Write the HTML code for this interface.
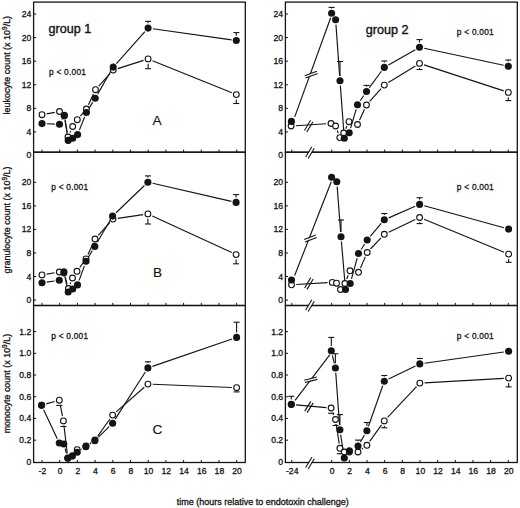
<!DOCTYPE html>
<html><head><meta charset="utf-8"><title>figure</title>
<style>
html,body{margin:0;padding:0;background:#fff;}
body{width:520px;height:508px;overflow:hidden;}
svg{display:block;}
text{font-family:"Liberation Sans",sans-serif;fill:#141414;stroke:#141414;stroke-width:0.3px;}
.tk{font-size:8.6px;}
.grp{font-size:12.6px;stroke-width:0.4px;}
.pv{font-size:8.35px;stroke-width:0.28px;letter-spacing:0.24px;}
.pl{font-size:13.6px;stroke-width:0.15px;}
.yt{font-size:8.95px;}
.xt{font-size:9.0px;}
</style></head>
<body>
<svg width="520" height="508" viewBox="0 0 520 508">
<rect width="520" height="508" fill="#fff"/>
<rect x="33.6" y="2.1" width="211.70" height="150.10" fill="none" stroke="#141414" stroke-width="1.3"/>
<rect x="33.6" y="152.2" width="211.70" height="153.30" fill="none" stroke="#141414" stroke-width="1.3"/>
<rect x="33.6" y="305.5" width="211.70" height="157.00" fill="none" stroke="#141414" stroke-width="1.3"/>
<rect x="285.4" y="2.1" width="231.90" height="150.10" fill="none" stroke="#141414" stroke-width="1.3"/>
<rect x="285.4" y="152.2" width="231.90" height="153.30" fill="none" stroke="#141414" stroke-width="1.3"/>
<rect x="285.4" y="305.5" width="231.90" height="157.00" fill="none" stroke="#141414" stroke-width="1.3"/>
<line x1="42.00" y1="152.2" x2="42.00" y2="149.60" stroke="#141414" stroke-width="1"/>
<line x1="59.70" y1="152.2" x2="59.70" y2="149.60" stroke="#141414" stroke-width="1"/>
<line x1="77.40" y1="152.2" x2="77.40" y2="149.60" stroke="#141414" stroke-width="1"/>
<line x1="95.10" y1="152.2" x2="95.10" y2="149.60" stroke="#141414" stroke-width="1"/>
<line x1="112.80" y1="152.2" x2="112.80" y2="149.60" stroke="#141414" stroke-width="1"/>
<line x1="130.50" y1="152.2" x2="130.50" y2="149.60" stroke="#141414" stroke-width="1"/>
<line x1="148.20" y1="152.2" x2="148.20" y2="149.60" stroke="#141414" stroke-width="1"/>
<line x1="165.90" y1="152.2" x2="165.90" y2="149.60" stroke="#141414" stroke-width="1"/>
<line x1="183.60" y1="152.2" x2="183.60" y2="149.60" stroke="#141414" stroke-width="1"/>
<line x1="201.30" y1="152.2" x2="201.30" y2="149.60" stroke="#141414" stroke-width="1"/>
<line x1="219.00" y1="152.2" x2="219.00" y2="149.60" stroke="#141414" stroke-width="1"/>
<line x1="236.70" y1="152.2" x2="236.70" y2="149.60" stroke="#141414" stroke-width="1"/>
<line x1="33.6" y1="131.92" x2="36.20" y2="131.92" stroke="#141414" stroke-width="1"/>
<line x1="33.6" y1="108.34" x2="36.20" y2="108.34" stroke="#141414" stroke-width="1"/>
<line x1="33.6" y1="84.76" x2="36.20" y2="84.76" stroke="#141414" stroke-width="1"/>
<line x1="33.6" y1="61.18" x2="36.20" y2="61.18" stroke="#141414" stroke-width="1"/>
<line x1="33.6" y1="37.60" x2="36.20" y2="37.60" stroke="#141414" stroke-width="1"/>
<line x1="33.6" y1="14.02" x2="36.20" y2="14.02" stroke="#141414" stroke-width="1"/>
<line x1="42.00" y1="305.5" x2="42.00" y2="302.90" stroke="#141414" stroke-width="1"/>
<line x1="59.70" y1="305.5" x2="59.70" y2="302.90" stroke="#141414" stroke-width="1"/>
<line x1="77.40" y1="305.5" x2="77.40" y2="302.90" stroke="#141414" stroke-width="1"/>
<line x1="95.10" y1="305.5" x2="95.10" y2="302.90" stroke="#141414" stroke-width="1"/>
<line x1="112.80" y1="305.5" x2="112.80" y2="302.90" stroke="#141414" stroke-width="1"/>
<line x1="130.50" y1="305.5" x2="130.50" y2="302.90" stroke="#141414" stroke-width="1"/>
<line x1="148.20" y1="305.5" x2="148.20" y2="302.90" stroke="#141414" stroke-width="1"/>
<line x1="165.90" y1="305.5" x2="165.90" y2="302.90" stroke="#141414" stroke-width="1"/>
<line x1="183.60" y1="305.5" x2="183.60" y2="302.90" stroke="#141414" stroke-width="1"/>
<line x1="201.30" y1="305.5" x2="201.30" y2="302.90" stroke="#141414" stroke-width="1"/>
<line x1="219.00" y1="305.5" x2="219.00" y2="302.90" stroke="#141414" stroke-width="1"/>
<line x1="236.70" y1="305.5" x2="236.70" y2="302.90" stroke="#141414" stroke-width="1"/>
<line x1="33.6" y1="300.10" x2="36.20" y2="300.10" stroke="#141414" stroke-width="1"/>
<line x1="33.6" y1="276.54" x2="36.20" y2="276.54" stroke="#141414" stroke-width="1"/>
<line x1="33.6" y1="252.98" x2="36.20" y2="252.98" stroke="#141414" stroke-width="1"/>
<line x1="33.6" y1="229.42" x2="36.20" y2="229.42" stroke="#141414" stroke-width="1"/>
<line x1="33.6" y1="205.86" x2="36.20" y2="205.86" stroke="#141414" stroke-width="1"/>
<line x1="33.6" y1="182.30" x2="36.20" y2="182.30" stroke="#141414" stroke-width="1"/>
<line x1="42.00" y1="462.5" x2="42.00" y2="459.90" stroke="#141414" stroke-width="1"/>
<line x1="59.70" y1="462.5" x2="59.70" y2="459.90" stroke="#141414" stroke-width="1"/>
<line x1="77.40" y1="462.5" x2="77.40" y2="459.90" stroke="#141414" stroke-width="1"/>
<line x1="95.10" y1="462.5" x2="95.10" y2="459.90" stroke="#141414" stroke-width="1"/>
<line x1="112.80" y1="462.5" x2="112.80" y2="459.90" stroke="#141414" stroke-width="1"/>
<line x1="130.50" y1="462.5" x2="130.50" y2="459.90" stroke="#141414" stroke-width="1"/>
<line x1="148.20" y1="462.5" x2="148.20" y2="459.90" stroke="#141414" stroke-width="1"/>
<line x1="165.90" y1="462.5" x2="165.90" y2="459.90" stroke="#141414" stroke-width="1"/>
<line x1="183.60" y1="462.5" x2="183.60" y2="459.90" stroke="#141414" stroke-width="1"/>
<line x1="201.30" y1="462.5" x2="201.30" y2="459.90" stroke="#141414" stroke-width="1"/>
<line x1="219.00" y1="462.5" x2="219.00" y2="459.90" stroke="#141414" stroke-width="1"/>
<line x1="236.70" y1="462.5" x2="236.70" y2="459.90" stroke="#141414" stroke-width="1"/>
<line x1="33.6" y1="440.18" x2="36.20" y2="440.18" stroke="#141414" stroke-width="1"/>
<line x1="33.6" y1="418.46" x2="36.20" y2="418.46" stroke="#141414" stroke-width="1"/>
<line x1="33.6" y1="396.74" x2="36.20" y2="396.74" stroke="#141414" stroke-width="1"/>
<line x1="33.6" y1="375.02" x2="36.20" y2="375.02" stroke="#141414" stroke-width="1"/>
<line x1="33.6" y1="353.30" x2="36.20" y2="353.30" stroke="#141414" stroke-width="1"/>
<line x1="33.6" y1="331.58" x2="36.20" y2="331.58" stroke="#141414" stroke-width="1"/>
<line x1="291.80" y1="152.2" x2="291.80" y2="149.60" stroke="#141414" stroke-width="1"/>
<line x1="331.70" y1="152.2" x2="331.70" y2="149.60" stroke="#141414" stroke-width="1"/>
<line x1="349.36" y1="152.2" x2="349.36" y2="149.60" stroke="#141414" stroke-width="1"/>
<line x1="367.02" y1="152.2" x2="367.02" y2="149.60" stroke="#141414" stroke-width="1"/>
<line x1="384.68" y1="152.2" x2="384.68" y2="149.60" stroke="#141414" stroke-width="1"/>
<line x1="402.34" y1="152.2" x2="402.34" y2="149.60" stroke="#141414" stroke-width="1"/>
<line x1="420.00" y1="152.2" x2="420.00" y2="149.60" stroke="#141414" stroke-width="1"/>
<line x1="437.66" y1="152.2" x2="437.66" y2="149.60" stroke="#141414" stroke-width="1"/>
<line x1="455.32" y1="152.2" x2="455.32" y2="149.60" stroke="#141414" stroke-width="1"/>
<line x1="472.98" y1="152.2" x2="472.98" y2="149.60" stroke="#141414" stroke-width="1"/>
<line x1="490.64" y1="152.2" x2="490.64" y2="149.60" stroke="#141414" stroke-width="1"/>
<line x1="508.30" y1="152.2" x2="508.30" y2="149.60" stroke="#141414" stroke-width="1"/>
<line x1="285.4" y1="131.92" x2="288.00" y2="131.92" stroke="#141414" stroke-width="1"/>
<line x1="285.4" y1="108.34" x2="288.00" y2="108.34" stroke="#141414" stroke-width="1"/>
<line x1="285.4" y1="84.76" x2="288.00" y2="84.76" stroke="#141414" stroke-width="1"/>
<line x1="285.4" y1="61.18" x2="288.00" y2="61.18" stroke="#141414" stroke-width="1"/>
<line x1="285.4" y1="37.60" x2="288.00" y2="37.60" stroke="#141414" stroke-width="1"/>
<line x1="285.4" y1="14.02" x2="288.00" y2="14.02" stroke="#141414" stroke-width="1"/>
<line x1="291.80" y1="305.5" x2="291.80" y2="302.90" stroke="#141414" stroke-width="1"/>
<line x1="331.70" y1="305.5" x2="331.70" y2="302.90" stroke="#141414" stroke-width="1"/>
<line x1="349.36" y1="305.5" x2="349.36" y2="302.90" stroke="#141414" stroke-width="1"/>
<line x1="367.02" y1="305.5" x2="367.02" y2="302.90" stroke="#141414" stroke-width="1"/>
<line x1="384.68" y1="305.5" x2="384.68" y2="302.90" stroke="#141414" stroke-width="1"/>
<line x1="402.34" y1="305.5" x2="402.34" y2="302.90" stroke="#141414" stroke-width="1"/>
<line x1="420.00" y1="305.5" x2="420.00" y2="302.90" stroke="#141414" stroke-width="1"/>
<line x1="437.66" y1="305.5" x2="437.66" y2="302.90" stroke="#141414" stroke-width="1"/>
<line x1="455.32" y1="305.5" x2="455.32" y2="302.90" stroke="#141414" stroke-width="1"/>
<line x1="472.98" y1="305.5" x2="472.98" y2="302.90" stroke="#141414" stroke-width="1"/>
<line x1="490.64" y1="305.5" x2="490.64" y2="302.90" stroke="#141414" stroke-width="1"/>
<line x1="508.30" y1="305.5" x2="508.30" y2="302.90" stroke="#141414" stroke-width="1"/>
<line x1="285.4" y1="300.10" x2="288.00" y2="300.10" stroke="#141414" stroke-width="1"/>
<line x1="285.4" y1="276.54" x2="288.00" y2="276.54" stroke="#141414" stroke-width="1"/>
<line x1="285.4" y1="252.98" x2="288.00" y2="252.98" stroke="#141414" stroke-width="1"/>
<line x1="285.4" y1="229.42" x2="288.00" y2="229.42" stroke="#141414" stroke-width="1"/>
<line x1="285.4" y1="205.86" x2="288.00" y2="205.86" stroke="#141414" stroke-width="1"/>
<line x1="285.4" y1="182.30" x2="288.00" y2="182.30" stroke="#141414" stroke-width="1"/>
<line x1="291.80" y1="462.5" x2="291.80" y2="459.90" stroke="#141414" stroke-width="1"/>
<line x1="331.70" y1="462.5" x2="331.70" y2="459.90" stroke="#141414" stroke-width="1"/>
<line x1="349.36" y1="462.5" x2="349.36" y2="459.90" stroke="#141414" stroke-width="1"/>
<line x1="367.02" y1="462.5" x2="367.02" y2="459.90" stroke="#141414" stroke-width="1"/>
<line x1="384.68" y1="462.5" x2="384.68" y2="459.90" stroke="#141414" stroke-width="1"/>
<line x1="402.34" y1="462.5" x2="402.34" y2="459.90" stroke="#141414" stroke-width="1"/>
<line x1="420.00" y1="462.5" x2="420.00" y2="459.90" stroke="#141414" stroke-width="1"/>
<line x1="437.66" y1="462.5" x2="437.66" y2="459.90" stroke="#141414" stroke-width="1"/>
<line x1="455.32" y1="462.5" x2="455.32" y2="459.90" stroke="#141414" stroke-width="1"/>
<line x1="472.98" y1="462.5" x2="472.98" y2="459.90" stroke="#141414" stroke-width="1"/>
<line x1="490.64" y1="462.5" x2="490.64" y2="459.90" stroke="#141414" stroke-width="1"/>
<line x1="508.30" y1="462.5" x2="508.30" y2="459.90" stroke="#141414" stroke-width="1"/>
<line x1="285.4" y1="440.18" x2="288.00" y2="440.18" stroke="#141414" stroke-width="1"/>
<line x1="285.4" y1="418.46" x2="288.00" y2="418.46" stroke="#141414" stroke-width="1"/>
<line x1="285.4" y1="396.74" x2="288.00" y2="396.74" stroke="#141414" stroke-width="1"/>
<line x1="285.4" y1="375.02" x2="288.00" y2="375.02" stroke="#141414" stroke-width="1"/>
<line x1="285.4" y1="353.30" x2="288.00" y2="353.30" stroke="#141414" stroke-width="1"/>
<line x1="285.4" y1="331.58" x2="288.00" y2="331.58" stroke="#141414" stroke-width="1"/>
<text x="31.30" y="157.70" text-anchor="end" class="tk">0</text>
<text x="31.30" y="134.92" text-anchor="end" class="tk">4</text>
<text x="31.30" y="111.34" text-anchor="end" class="tk">8</text>
<text x="31.30" y="87.76" text-anchor="end" class="tk">12</text>
<text x="31.30" y="64.18" text-anchor="end" class="tk">16</text>
<text x="31.30" y="40.60" text-anchor="end" class="tk">20</text>
<text x="31.30" y="17.02" text-anchor="end" class="tk">24</text>
<text x="31.30" y="303.10" text-anchor="end" class="tk">0</text>
<text x="31.30" y="279.54" text-anchor="end" class="tk">4</text>
<text x="31.30" y="255.98" text-anchor="end" class="tk">8</text>
<text x="31.30" y="232.42" text-anchor="end" class="tk">12</text>
<text x="31.30" y="208.86" text-anchor="end" class="tk">16</text>
<text x="31.30" y="185.30" text-anchor="end" class="tk">20</text>
<text x="31.30" y="464.90" text-anchor="end" class="tk">0</text>
<text x="31.30" y="443.18" text-anchor="end" class="tk">0.2</text>
<text x="31.30" y="421.46" text-anchor="end" class="tk">0.4</text>
<text x="31.30" y="399.74" text-anchor="end" class="tk">0.6</text>
<text x="31.30" y="378.02" text-anchor="end" class="tk">0.8</text>
<text x="31.30" y="356.30" text-anchor="end" class="tk">1.0</text>
<text x="31.30" y="334.58" text-anchor="end" class="tk">1.2</text>
<text x="283.10" y="157.70" text-anchor="end" class="tk">0</text>
<text x="283.10" y="134.92" text-anchor="end" class="tk">4</text>
<text x="283.10" y="111.34" text-anchor="end" class="tk">8</text>
<text x="283.10" y="87.76" text-anchor="end" class="tk">12</text>
<text x="283.10" y="64.18" text-anchor="end" class="tk">16</text>
<text x="283.10" y="40.60" text-anchor="end" class="tk">20</text>
<text x="283.10" y="17.02" text-anchor="end" class="tk">24</text>
<text x="283.10" y="303.10" text-anchor="end" class="tk">0</text>
<text x="283.10" y="279.54" text-anchor="end" class="tk">4</text>
<text x="283.10" y="255.98" text-anchor="end" class="tk">8</text>
<text x="283.10" y="232.42" text-anchor="end" class="tk">12</text>
<text x="283.10" y="208.86" text-anchor="end" class="tk">16</text>
<text x="283.10" y="185.30" text-anchor="end" class="tk">20</text>
<text x="283.10" y="464.90" text-anchor="end" class="tk">0</text>
<text x="283.10" y="443.18" text-anchor="end" class="tk">0.2</text>
<text x="283.10" y="421.46" text-anchor="end" class="tk">0.4</text>
<text x="283.10" y="399.74" text-anchor="end" class="tk">0.6</text>
<text x="283.10" y="378.02" text-anchor="end" class="tk">0.8</text>
<text x="283.10" y="356.30" text-anchor="end" class="tk">1.0</text>
<text x="283.10" y="334.58" text-anchor="end" class="tk">1.2</text>
<text x="42.40" y="473.6" text-anchor="middle" class="tk">-2</text>
<text x="60.10" y="473.6" text-anchor="middle" class="tk">0</text>
<text x="77.80" y="473.6" text-anchor="middle" class="tk">2</text>
<text x="95.50" y="473.6" text-anchor="middle" class="tk">4</text>
<text x="113.20" y="473.6" text-anchor="middle" class="tk">6</text>
<text x="130.90" y="473.6" text-anchor="middle" class="tk">8</text>
<text x="148.60" y="473.6" text-anchor="middle" class="tk">10</text>
<text x="166.30" y="473.6" text-anchor="middle" class="tk">12</text>
<text x="184.00" y="473.6" text-anchor="middle" class="tk">14</text>
<text x="201.70" y="473.6" text-anchor="middle" class="tk">16</text>
<text x="219.40" y="473.6" text-anchor="middle" class="tk">18</text>
<text x="237.10" y="473.6" text-anchor="middle" class="tk">20</text>
<text x="292.20" y="473.6" text-anchor="middle" class="tk">-24</text>
<text x="332.10" y="473.6" text-anchor="middle" class="tk">0</text>
<text x="349.76" y="473.6" text-anchor="middle" class="tk">2</text>
<text x="367.42" y="473.6" text-anchor="middle" class="tk">4</text>
<text x="385.08" y="473.6" text-anchor="middle" class="tk">6</text>
<text x="402.74" y="473.6" text-anchor="middle" class="tk">8</text>
<text x="420.40" y="473.6" text-anchor="middle" class="tk">10</text>
<text x="438.06" y="473.6" text-anchor="middle" class="tk">12</text>
<text x="455.72" y="473.6" text-anchor="middle" class="tk">14</text>
<text x="473.38" y="473.6" text-anchor="middle" class="tk">16</text>
<text x="491.04" y="473.6" text-anchor="middle" class="tk">18</text>
<text x="508.70" y="473.6" text-anchor="middle" class="tk">20</text>
<line x1="46.72" y1="113.84" x2="54.78" y2="112.36" stroke="#141414" stroke-width="1.15"/>
<line x1="65.05" y1="120.72" x2="67.15" y2="132.28" stroke="#141414" stroke-width="1.15"/>
<line x1="69.96" y1="132.62" x2="70.74" y2="130.88" stroke="#141414" stroke-width="1.15"/>
<line x1="80.41" y1="116.04" x2="83.29" y2="112.66" stroke="#141414" stroke-width="1.15"/>
<line x1="88.45" y1="104.66" x2="93.45" y2="94.04" stroke="#141414" stroke-width="1.15"/>
<line x1="98.72" y1="86.14" x2="109.98" y2="73.66" stroke="#141414" stroke-width="1.15"/>
<line x1="117.77" y1="68.63" x2="143.53" y2="60.37" stroke="#141414" stroke-width="1.15"/>
<line x1="152.55" y1="60.70" x2="231.85" y2="92.80" stroke="#141414" stroke-width="1.15"/>
<line x1="148.10" y1="63.70" x2="148.10" y2="68.70" stroke="#141414" stroke-width="1.1"/>
<line x1="145.10" y1="68.70" x2="151.10" y2="68.70" stroke="#141414" stroke-width="1.1"/>
<line x1="236.30" y1="99.40" x2="236.30" y2="103.50" stroke="#141414" stroke-width="1.1"/>
<line x1="233.30" y1="103.50" x2="239.30" y2="103.50" stroke="#141414" stroke-width="1.1"/>
<line x1="46.80" y1="123.79" x2="54.70" y2="124.11" stroke="#141414" stroke-width="1.15"/>
<line x1="61.78" y1="120.07" x2="62.12" y2="119.43" stroke="#141414" stroke-width="1.15"/>
<line x1="65.12" y1="119.95" x2="67.48" y2="135.65" stroke="#141414" stroke-width="1.15"/>
<line x1="79.38" y1="130.14" x2="84.62" y2="116.96" stroke="#141414" stroke-width="1.15"/>
<line x1="88.93" y1="108.42" x2="92.67" y2="102.38" stroke="#141414" stroke-width="1.15"/>
<line x1="97.60" y1="94.14" x2="110.80" y2="71.26" stroke="#141414" stroke-width="1.15"/>
<line x1="116.40" y1="63.52" x2="144.90" y2="31.68" stroke="#141414" stroke-width="1.15"/>
<line x1="152.85" y1="28.77" x2="231.55" y2="39.83" stroke="#141414" stroke-width="1.15"/>
<line x1="148.10" y1="23.30" x2="148.10" y2="21.40" stroke="#141414" stroke-width="1.1"/>
<line x1="145.10" y1="21.40" x2="151.10" y2="21.40" stroke="#141414" stroke-width="1.1"/>
<line x1="236.30" y1="35.70" x2="236.30" y2="32.60" stroke="#141414" stroke-width="1.1"/>
<line x1="233.30" y1="32.60" x2="239.30" y2="32.60" stroke="#141414" stroke-width="1.1"/>
<line x1="46.73" y1="274.11" x2="54.57" y2="272.79" stroke="#141414" stroke-width="1.15"/>
<line x1="65.24" y1="277.61" x2="67.06" y2="283.89" stroke="#141414" stroke-width="1.15"/>
<line x1="70.15" y1="284.03" x2="70.75" y2="282.47" stroke="#141414" stroke-width="1.15"/>
<line x1="79.82" y1="267.42" x2="83.18" y2="262.78" stroke="#141414" stroke-width="1.15"/>
<line x1="87.98" y1="254.53" x2="93.02" y2="243.37" stroke="#141414" stroke-width="1.15"/>
<line x1="98.22" y1="235.44" x2="109.78" y2="222.66" stroke="#141414" stroke-width="1.15"/>
<line x1="117.75" y1="218.39" x2="143.15" y2="214.61" stroke="#141414" stroke-width="1.15"/>
<line x1="152.26" y1="215.91" x2="231.74" y2="252.59" stroke="#141414" stroke-width="1.15"/>
<line x1="147.90" y1="218.70" x2="147.90" y2="224.00" stroke="#141414" stroke-width="1.1"/>
<line x1="144.90" y1="224.00" x2="150.90" y2="224.00" stroke="#141414" stroke-width="1.1"/>
<line x1="236.10" y1="259.40" x2="236.10" y2="263.80" stroke="#141414" stroke-width="1.1"/>
<line x1="233.10" y1="263.80" x2="239.10" y2="263.80" stroke="#141414" stroke-width="1.1"/>
<line x1="46.75" y1="282.11" x2="54.55" y2="280.99" stroke="#141414" stroke-width="1.15"/>
<line x1="64.89" y1="276.40" x2="67.21" y2="287.30" stroke="#141414" stroke-width="1.15"/>
<line x1="79.13" y1="280.38" x2="84.37" y2="265.82" stroke="#141414" stroke-width="1.15"/>
<line x1="88.44" y1="257.17" x2="92.36" y2="250.53" stroke="#141414" stroke-width="1.15"/>
<line x1="97.23" y1="242.26" x2="110.17" y2="220.24" stroke="#141414" stroke-width="1.15"/>
<line x1="116.06" y1="212.78" x2="144.44" y2="185.52" stroke="#141414" stroke-width="1.15"/>
<line x1="152.58" y1="183.27" x2="231.42" y2="201.33" stroke="#141414" stroke-width="1.15"/>
<line x1="147.90" y1="177.40" x2="147.90" y2="175.90" stroke="#141414" stroke-width="1.1"/>
<line x1="144.90" y1="175.90" x2="150.90" y2="175.90" stroke="#141414" stroke-width="1.1"/>
<line x1="236.10" y1="197.60" x2="236.10" y2="194.60" stroke="#141414" stroke-width="1.1"/>
<line x1="233.10" y1="194.60" x2="239.10" y2="194.60" stroke="#141414" stroke-width="1.1"/>
<line x1="46.22" y1="403.90" x2="54.68" y2="401.50" stroke="#141414" stroke-width="1.15"/>
<line x1="60.23" y1="404.91" x2="62.47" y2="416.19" stroke="#141414" stroke-width="1.15"/>
<line x1="63.97" y1="425.67" x2="67.23" y2="453.23" stroke="#141414" stroke-width="1.15"/>
<line x1="89.99" y1="443.34" x2="91.01" y2="442.66" stroke="#141414" stroke-width="1.15"/>
<line x1="97.77" y1="436.08" x2="109.83" y2="419.02" stroke="#141414" stroke-width="1.15"/>
<line x1="116.21" y1="411.93" x2="144.29" y2="387.27" stroke="#141414" stroke-width="1.15"/>
<line x1="152.70" y1="384.29" x2="231.80" y2="387.51" stroke="#141414" stroke-width="1.15"/>
<line x1="59.30" y1="405.00" x2="59.30" y2="405.40" stroke="#141414" stroke-width="1.1"/>
<line x1="56.30" y1="405.40" x2="62.30" y2="405.40" stroke="#141414" stroke-width="1.1"/>
<line x1="63.40" y1="425.70" x2="63.40" y2="426.50" stroke="#141414" stroke-width="1.1"/>
<line x1="60.40" y1="426.50" x2="66.40" y2="426.50" stroke="#141414" stroke-width="1.1"/>
<line x1="233.60" y1="391.90" x2="239.60" y2="391.90" stroke="#141414" stroke-width="1.1"/>
<line x1="43.64" y1="409.64" x2="57.26" y2="438.66" stroke="#141414" stroke-width="1.15"/>
<line x1="65.10" y1="448.62" x2="66.50" y2="453.58" stroke="#141414" stroke-width="1.15"/>
<line x1="81.27" y1="449.65" x2="81.73" y2="449.35" stroke="#141414" stroke-width="1.15"/>
<line x1="89.79" y1="444.14" x2="90.81" y2="443.46" stroke="#141414" stroke-width="1.15"/>
<line x1="98.21" y1="437.43" x2="109.19" y2="426.57" stroke="#141414" stroke-width="1.15"/>
<line x1="115.18" y1="419.15" x2="145.32" y2="371.95" stroke="#141414" stroke-width="1.15"/>
<line x1="152.44" y1="366.34" x2="232.06" y2="338.96" stroke="#141414" stroke-width="1.15"/>
<line x1="147.90" y1="363.10" x2="147.90" y2="361.80" stroke="#141414" stroke-width="1.1"/>
<line x1="144.90" y1="361.80" x2="150.90" y2="361.80" stroke="#141414" stroke-width="1.1"/>
<line x1="236.60" y1="332.60" x2="236.60" y2="322.20" stroke="#141414" stroke-width="1.1"/>
<line x1="233.60" y1="322.20" x2="239.60" y2="322.20" stroke="#141414" stroke-width="1.1"/>
<line x1="295.89" y1="125.70" x2="326.21" y2="123.80" stroke="#141414" stroke-width="1.15"/>
<line x1="337.23" y1="130.51" x2="338.17" y2="133.09" stroke="#141414" stroke-width="1.15"/>
<line x1="345.74" y1="128.65" x2="346.96" y2="126.05" stroke="#141414" stroke-width="1.15"/>
<line x1="359.51" y1="120.14" x2="364.49" y2="109.36" stroke="#141414" stroke-width="1.15"/>
<line x1="369.70" y1="101.42" x2="381.10" y2="88.68" stroke="#141414" stroke-width="1.15"/>
<line x1="388.39" y1="82.58" x2="415.41" y2="65.92" stroke="#141414" stroke-width="1.15"/>
<line x1="424.06" y1="64.89" x2="503.74" y2="90.91" stroke="#141414" stroke-width="1.15"/>
<line x1="419.50" y1="68.20" x2="419.50" y2="69.50" stroke="#141414" stroke-width="1.1"/>
<line x1="416.50" y1="69.50" x2="422.50" y2="69.50" stroke="#141414" stroke-width="1.1"/>
<line x1="508.30" y1="97.20" x2="508.30" y2="100.60" stroke="#141414" stroke-width="1.1"/>
<line x1="505.30" y1="100.60" x2="511.30" y2="100.60" stroke="#141414" stroke-width="1.1"/>
<line x1="294.74" y1="116.89" x2="330.66" y2="17.81" stroke="#141414" stroke-width="1.15"/>
<line x1="335.95" y1="24.59" x2="339.65" y2="76.01" stroke="#141414" stroke-width="1.15"/>
<line x1="340.36" y1="85.59" x2="343.94" y2="133.51" stroke="#141414" stroke-width="1.15"/>
<line x1="350.56" y1="128.20" x2="356.14" y2="109.30" stroke="#141414" stroke-width="1.15"/>
<line x1="360.20" y1="100.73" x2="363.80" y2="95.47" stroke="#141414" stroke-width="1.15"/>
<line x1="369.35" y1="87.64" x2="381.45" y2="71.26" stroke="#141414" stroke-width="1.15"/>
<line x1="388.47" y1="65.02" x2="415.33" y2="49.68" stroke="#141414" stroke-width="1.15"/>
<line x1="424.19" y1="48.30" x2="503.61" y2="65.20" stroke="#141414" stroke-width="1.15"/>
<line x1="331.60" y1="8.50" x2="331.60" y2="7.40" stroke="#141414" stroke-width="1.1"/>
<line x1="328.60" y1="7.40" x2="334.60" y2="7.40" stroke="#141414" stroke-width="1.1"/>
<line x1="340.00" y1="76.00" x2="340.00" y2="61.50" stroke="#141414" stroke-width="1.1"/>
<line x1="337.00" y1="61.50" x2="343.00" y2="61.50" stroke="#141414" stroke-width="1.1"/>
<line x1="366.50" y1="86.70" x2="366.50" y2="85.40" stroke="#141414" stroke-width="1.1"/>
<line x1="363.50" y1="85.40" x2="369.50" y2="85.40" stroke="#141414" stroke-width="1.1"/>
<line x1="384.30" y1="62.60" x2="384.30" y2="61.00" stroke="#141414" stroke-width="1.1"/>
<line x1="381.30" y1="61.00" x2="387.30" y2="61.00" stroke="#141414" stroke-width="1.1"/>
<line x1="419.50" y1="42.50" x2="419.50" y2="39.60" stroke="#141414" stroke-width="1.1"/>
<line x1="416.50" y1="39.60" x2="422.50" y2="39.60" stroke="#141414" stroke-width="1.1"/>
<line x1="508.30" y1="61.40" x2="508.30" y2="60.00" stroke="#141414" stroke-width="1.1"/>
<line x1="505.30" y1="60.00" x2="511.30" y2="60.00" stroke="#141414" stroke-width="1.1"/>
<line x1="296.29" y1="284.52" x2="327.51" y2="282.68" stroke="#141414" stroke-width="1.15"/>
<line x1="346.69" y1="279.05" x2="348.21" y2="275.25" stroke="#141414" stroke-width="1.15"/>
<line x1="360.43" y1="267.91" x2="365.27" y2="256.89" stroke="#141414" stroke-width="1.15"/>
<line x1="370.49" y1="249.00" x2="381.01" y2="237.80" stroke="#141414" stroke-width="1.15"/>
<line x1="388.63" y1="232.24" x2="415.27" y2="219.56" stroke="#141414" stroke-width="1.15"/>
<line x1="424.04" y1="219.33" x2="504.16" y2="252.27" stroke="#141414" stroke-width="1.15"/>
<line x1="419.60" y1="222.30" x2="419.60" y2="223.60" stroke="#141414" stroke-width="1.1"/>
<line x1="416.60" y1="223.60" x2="422.60" y2="223.60" stroke="#141414" stroke-width="1.1"/>
<line x1="508.60" y1="258.90" x2="508.60" y2="262.30" stroke="#141414" stroke-width="1.1"/>
<line x1="505.60" y1="262.30" x2="511.60" y2="262.30" stroke="#141414" stroke-width="1.1"/>
<line x1="294.65" y1="275.53" x2="331.25" y2="181.77" stroke="#141414" stroke-width="1.15"/>
<line x1="337.17" y1="186.59" x2="340.63" y2="231.91" stroke="#141414" stroke-width="1.15"/>
<line x1="341.41" y1="241.48" x2="345.09" y2="284.72" stroke="#141414" stroke-width="1.15"/>
<line x1="351.48" y1="278.87" x2="357.22" y2="258.13" stroke="#141414" stroke-width="1.15"/>
<line x1="361.10" y1="249.47" x2="364.60" y2="244.03" stroke="#141414" stroke-width="1.15"/>
<line x1="370.30" y1="236.34" x2="381.20" y2="223.46" stroke="#141414" stroke-width="1.15"/>
<line x1="388.70" y1="217.88" x2="415.20" y2="206.32" stroke="#141414" stroke-width="1.15"/>
<line x1="424.23" y1="205.68" x2="503.97" y2="227.82" stroke="#141414" stroke-width="1.15"/>
<line x1="341.00" y1="231.90" x2="341.00" y2="220.00" stroke="#141414" stroke-width="1.1"/>
<line x1="338.00" y1="220.00" x2="344.00" y2="220.00" stroke="#141414" stroke-width="1.1"/>
<line x1="384.30" y1="215.00" x2="384.30" y2="213.50" stroke="#141414" stroke-width="1.1"/>
<line x1="381.30" y1="213.50" x2="387.30" y2="213.50" stroke="#141414" stroke-width="1.1"/>
<line x1="419.60" y1="199.60" x2="419.60" y2="197.70" stroke="#141414" stroke-width="1.1"/>
<line x1="416.60" y1="197.70" x2="422.60" y2="197.70" stroke="#141414" stroke-width="1.1"/>
<line x1="296.08" y1="404.92" x2="326.32" y2="407.58" stroke="#141414" stroke-width="1.15"/>
<line x1="332.82" y1="412.48" x2="333.78" y2="415.02" stroke="#141414" stroke-width="1.15"/>
<line x1="336.22" y1="424.24" x2="339.18" y2="443.56" stroke="#141414" stroke-width="1.15"/>
<line x1="361.83" y1="449.11" x2="363.07" y2="448.19" stroke="#141414" stroke-width="1.15"/>
<line x1="369.69" y1="441.39" x2="381.51" y2="424.81" stroke="#141414" stroke-width="1.15"/>
<line x1="387.59" y1="417.40" x2="416.51" y2="386.60" stroke="#141414" stroke-width="1.15"/>
<line x1="424.59" y1="382.83" x2="503.81" y2="378.37" stroke="#141414" stroke-width="1.15"/>
<line x1="331.10" y1="412.80" x2="331.10" y2="413.30" stroke="#141414" stroke-width="1.1"/>
<line x1="328.10" y1="413.30" x2="334.10" y2="413.30" stroke="#141414" stroke-width="1.1"/>
<line x1="335.50" y1="424.30" x2="335.50" y2="425.50" stroke="#141414" stroke-width="1.1"/>
<line x1="332.50" y1="425.50" x2="338.50" y2="425.50" stroke="#141414" stroke-width="1.1"/>
<line x1="339.90" y1="453.10" x2="339.90" y2="453.70" stroke="#141414" stroke-width="1.1"/>
<line x1="336.90" y1="453.70" x2="342.90" y2="453.70" stroke="#141414" stroke-width="1.1"/>
<line x1="384.30" y1="425.70" x2="384.30" y2="427.80" stroke="#141414" stroke-width="1.1"/>
<line x1="381.30" y1="427.80" x2="387.30" y2="427.80" stroke="#141414" stroke-width="1.1"/>
<line x1="508.60" y1="382.90" x2="508.60" y2="386.90" stroke="#141414" stroke-width="1.1"/>
<line x1="505.60" y1="386.90" x2="511.60" y2="386.90" stroke="#141414" stroke-width="1.1"/>
<line x1="295.10" y1="400.47" x2="329.90" y2="354.53" stroke="#141414" stroke-width="1.15"/>
<line x1="332.41" y1="355.37" x2="334.29" y2="363.33" stroke="#141414" stroke-width="1.15"/>
<line x1="335.75" y1="372.79" x2="339.55" y2="425.01" stroke="#141414" stroke-width="1.15"/>
<line x1="340.64" y1="434.54" x2="343.56" y2="453.26" stroke="#141414" stroke-width="1.15"/>
<line x1="360.43" y1="441.86" x2="364.47" y2="434.94" stroke="#141414" stroke-width="1.15"/>
<line x1="368.49" y1="426.27" x2="382.71" y2="385.73" stroke="#141414" stroke-width="1.15"/>
<line x1="388.61" y1="379.10" x2="415.49" y2="366.00" stroke="#141414" stroke-width="1.15"/>
<line x1="424.55" y1="363.23" x2="503.85" y2="351.97" stroke="#141414" stroke-width="1.15"/>
<line x1="291.30" y1="399.50" x2="291.30" y2="396.30" stroke="#141414" stroke-width="1.1"/>
<line x1="288.30" y1="396.30" x2="294.30" y2="396.30" stroke="#141414" stroke-width="1.1"/>
<line x1="331.30" y1="345.90" x2="331.30" y2="337.40" stroke="#141414" stroke-width="1.1"/>
<line x1="328.30" y1="337.40" x2="334.30" y2="337.40" stroke="#141414" stroke-width="1.1"/>
<line x1="335.40" y1="363.20" x2="335.40" y2="353.80" stroke="#141414" stroke-width="1.1"/>
<line x1="332.40" y1="353.80" x2="338.40" y2="353.80" stroke="#141414" stroke-width="1.1"/>
<line x1="339.90" y1="425.00" x2="339.90" y2="414.60" stroke="#141414" stroke-width="1.1"/>
<line x1="336.90" y1="414.60" x2="342.90" y2="414.60" stroke="#141414" stroke-width="1.1"/>
<line x1="358.00" y1="441.20" x2="358.00" y2="440.10" stroke="#141414" stroke-width="1.1"/>
<line x1="355.00" y1="440.10" x2="361.00" y2="440.10" stroke="#141414" stroke-width="1.1"/>
<line x1="366.90" y1="426.00" x2="366.90" y2="422.50" stroke="#141414" stroke-width="1.1"/>
<line x1="363.90" y1="422.50" x2="369.90" y2="422.50" stroke="#141414" stroke-width="1.1"/>
<line x1="384.30" y1="376.40" x2="384.30" y2="375.50" stroke="#141414" stroke-width="1.1"/>
<line x1="381.30" y1="375.50" x2="387.30" y2="375.50" stroke="#141414" stroke-width="1.1"/>
<line x1="419.80" y1="359.10" x2="419.80" y2="358.50" stroke="#141414" stroke-width="1.1"/>
<line x1="416.80" y1="358.50" x2="422.80" y2="358.50" stroke="#141414" stroke-width="1.1"/>
<circle cx="42.00" cy="114.70" r="2.9" fill="#fff" stroke="#141414" stroke-width="1.1"/>
<circle cx="59.50" cy="111.50" r="2.9" fill="#fff" stroke="#141414" stroke-width="1.1"/>
<circle cx="64.20" cy="116.00" r="2.9" fill="#fff" stroke="#141414" stroke-width="1.1"/>
<circle cx="68.00" cy="137.00" r="2.9" fill="#fff" stroke="#141414" stroke-width="1.1"/>
<circle cx="72.70" cy="126.50" r="2.9" fill="#fff" stroke="#141414" stroke-width="1.1"/>
<circle cx="77.30" cy="119.70" r="2.9" fill="#fff" stroke="#141414" stroke-width="1.1"/>
<circle cx="86.40" cy="109.00" r="2.9" fill="#fff" stroke="#141414" stroke-width="1.1"/>
<circle cx="95.50" cy="89.70" r="2.9" fill="#fff" stroke="#141414" stroke-width="1.1"/>
<circle cx="113.20" cy="70.10" r="2.9" fill="#fff" stroke="#141414" stroke-width="1.1"/>
<circle cx="148.10" cy="58.90" r="2.9" fill="#fff" stroke="#141414" stroke-width="1.1"/>
<circle cx="236.30" cy="94.60" r="2.9" fill="#fff" stroke="#141414" stroke-width="1.1"/>
<circle cx="42.00" cy="123.60" r="3.55" fill="#141414"/>
<circle cx="59.50" cy="124.30" r="3.55" fill="#141414"/>
<circle cx="64.40" cy="115.20" r="3.55" fill="#141414"/>
<circle cx="68.20" cy="140.40" r="3.55" fill="#141414"/>
<circle cx="72.70" cy="138.30" r="3.55" fill="#141414"/>
<circle cx="77.60" cy="134.60" r="3.55" fill="#141414"/>
<circle cx="86.40" cy="112.50" r="3.55" fill="#141414"/>
<circle cx="95.20" cy="98.30" r="3.55" fill="#141414"/>
<circle cx="113.20" cy="67.10" r="3.55" fill="#141414"/>
<circle cx="148.10" cy="28.10" r="3.55" fill="#141414"/>
<circle cx="236.30" cy="40.50" r="3.55" fill="#141414"/>
<circle cx="42.00" cy="274.90" r="2.9" fill="#fff" stroke="#141414" stroke-width="1.1"/>
<circle cx="59.30" cy="272.00" r="2.9" fill="#fff" stroke="#141414" stroke-width="1.1"/>
<circle cx="63.90" cy="273.00" r="2.9" fill="#fff" stroke="#141414" stroke-width="1.1"/>
<circle cx="68.40" cy="288.50" r="2.9" fill="#fff" stroke="#141414" stroke-width="1.1"/>
<circle cx="72.50" cy="278.00" r="2.9" fill="#fff" stroke="#141414" stroke-width="1.1"/>
<circle cx="77.00" cy="271.30" r="2.9" fill="#fff" stroke="#141414" stroke-width="1.1"/>
<circle cx="86.00" cy="258.90" r="2.9" fill="#fff" stroke="#141414" stroke-width="1.1"/>
<circle cx="95.00" cy="239.00" r="2.9" fill="#fff" stroke="#141414" stroke-width="1.1"/>
<circle cx="113.00" cy="219.10" r="2.9" fill="#fff" stroke="#141414" stroke-width="1.1"/>
<circle cx="147.90" cy="213.90" r="2.9" fill="#fff" stroke="#141414" stroke-width="1.1"/>
<circle cx="236.10" cy="254.60" r="2.9" fill="#fff" stroke="#141414" stroke-width="1.1"/>
<circle cx="42.00" cy="282.80" r="3.55" fill="#141414"/>
<circle cx="59.30" cy="280.30" r="3.55" fill="#141414"/>
<circle cx="63.90" cy="271.70" r="3.55" fill="#141414"/>
<circle cx="68.20" cy="292.00" r="3.55" fill="#141414"/>
<circle cx="72.70" cy="289.00" r="3.55" fill="#141414"/>
<circle cx="77.50" cy="284.90" r="3.55" fill="#141414"/>
<circle cx="86.00" cy="261.30" r="3.55" fill="#141414"/>
<circle cx="94.80" cy="246.40" r="3.55" fill="#141414"/>
<circle cx="112.60" cy="216.10" r="3.55" fill="#141414"/>
<circle cx="147.90" cy="182.20" r="3.55" fill="#141414"/>
<circle cx="236.10" cy="202.40" r="3.55" fill="#141414"/>
<circle cx="41.60" cy="405.20" r="2.9" fill="#fff" stroke="#141414" stroke-width="1.1"/>
<circle cx="59.30" cy="400.20" r="2.9" fill="#fff" stroke="#141414" stroke-width="1.1"/>
<circle cx="63.40" cy="420.90" r="2.9" fill="#fff" stroke="#141414" stroke-width="1.1"/>
<circle cx="67.80" cy="458.00" r="2.9" fill="#fff" stroke="#141414" stroke-width="1.1"/>
<circle cx="72.30" cy="455.90" r="2.9" fill="#fff" stroke="#141414" stroke-width="1.1"/>
<circle cx="77.20" cy="449.60" r="2.9" fill="#fff" stroke="#141414" stroke-width="1.1"/>
<circle cx="86.00" cy="446.00" r="2.9" fill="#fff" stroke="#141414" stroke-width="1.1"/>
<circle cx="95.00" cy="440.00" r="2.9" fill="#fff" stroke="#141414" stroke-width="1.1"/>
<circle cx="112.60" cy="415.10" r="2.9" fill="#fff" stroke="#141414" stroke-width="1.1"/>
<circle cx="147.90" cy="384.10" r="2.9" fill="#fff" stroke="#141414" stroke-width="1.1"/>
<circle cx="236.60" cy="387.70" r="2.9" fill="#fff" stroke="#141414" stroke-width="1.1"/>
<circle cx="41.60" cy="405.30" r="3.55" fill="#141414"/>
<circle cx="59.30" cy="443.00" r="3.55" fill="#141414"/>
<circle cx="63.80" cy="444.00" r="3.55" fill="#141414"/>
<circle cx="67.80" cy="458.20" r="3.55" fill="#141414"/>
<circle cx="72.30" cy="456.00" r="3.55" fill="#141414"/>
<circle cx="77.20" cy="452.20" r="3.55" fill="#141414"/>
<circle cx="85.80" cy="446.80" r="3.55" fill="#141414"/>
<circle cx="94.80" cy="440.80" r="3.55" fill="#141414"/>
<circle cx="112.60" cy="423.20" r="3.55" fill="#141414"/>
<circle cx="147.90" cy="367.90" r="3.55" fill="#141414"/>
<circle cx="236.60" cy="337.40" r="3.55" fill="#141414"/>
<circle cx="291.10" cy="126.00" r="2.9" fill="#fff" stroke="#141414" stroke-width="1.1"/>
<circle cx="331.00" cy="123.50" r="2.9" fill="#fff" stroke="#141414" stroke-width="1.1"/>
<circle cx="335.60" cy="126.00" r="2.9" fill="#fff" stroke="#141414" stroke-width="1.1"/>
<circle cx="339.80" cy="137.60" r="2.9" fill="#fff" stroke="#141414" stroke-width="1.1"/>
<circle cx="343.70" cy="133.00" r="2.9" fill="#fff" stroke="#141414" stroke-width="1.1"/>
<circle cx="349.00" cy="121.70" r="2.9" fill="#fff" stroke="#141414" stroke-width="1.1"/>
<circle cx="357.50" cy="124.50" r="2.9" fill="#fff" stroke="#141414" stroke-width="1.1"/>
<circle cx="366.50" cy="105.00" r="2.9" fill="#fff" stroke="#141414" stroke-width="1.1"/>
<circle cx="384.30" cy="85.10" r="2.9" fill="#fff" stroke="#141414" stroke-width="1.1"/>
<circle cx="419.50" cy="63.40" r="2.9" fill="#fff" stroke="#141414" stroke-width="1.1"/>
<circle cx="508.30" cy="92.40" r="2.9" fill="#fff" stroke="#141414" stroke-width="1.1"/>
<circle cx="291.40" cy="121.40" r="3.55" fill="#141414"/>
<circle cx="331.60" cy="13.30" r="3.55" fill="#141414"/>
<circle cx="335.60" cy="19.80" r="3.55" fill="#141414"/>
<circle cx="340.00" cy="80.80" r="3.55" fill="#141414"/>
<circle cx="344.30" cy="138.30" r="3.55" fill="#141414"/>
<circle cx="349.20" cy="132.80" r="3.55" fill="#141414"/>
<circle cx="357.50" cy="104.70" r="3.55" fill="#141414"/>
<circle cx="366.50" cy="91.50" r="3.55" fill="#141414"/>
<circle cx="384.30" cy="67.40" r="3.55" fill="#141414"/>
<circle cx="419.50" cy="47.30" r="3.55" fill="#141414"/>
<circle cx="508.30" cy="66.20" r="3.55" fill="#141414"/>
<circle cx="291.50" cy="284.80" r="2.9" fill="#fff" stroke="#141414" stroke-width="1.1"/>
<circle cx="332.30" cy="282.40" r="2.9" fill="#fff" stroke="#141414" stroke-width="1.1"/>
<circle cx="336.50" cy="283.20" r="2.9" fill="#fff" stroke="#141414" stroke-width="1.1"/>
<circle cx="340.50" cy="289.50" r="2.9" fill="#fff" stroke="#141414" stroke-width="1.1"/>
<circle cx="344.90" cy="283.50" r="2.9" fill="#fff" stroke="#141414" stroke-width="1.1"/>
<circle cx="350.00" cy="270.80" r="2.9" fill="#fff" stroke="#141414" stroke-width="1.1"/>
<circle cx="358.50" cy="272.30" r="2.9" fill="#fff" stroke="#141414" stroke-width="1.1"/>
<circle cx="367.20" cy="252.50" r="2.9" fill="#fff" stroke="#141414" stroke-width="1.1"/>
<circle cx="384.30" cy="234.30" r="2.9" fill="#fff" stroke="#141414" stroke-width="1.1"/>
<circle cx="419.60" cy="217.50" r="2.9" fill="#fff" stroke="#141414" stroke-width="1.1"/>
<circle cx="508.60" cy="254.10" r="2.9" fill="#fff" stroke="#141414" stroke-width="1.1"/>
<circle cx="291.50" cy="280.00" r="3.55" fill="#141414"/>
<circle cx="331.60" cy="177.30" r="3.55" fill="#141414"/>
<circle cx="336.80" cy="181.80" r="3.55" fill="#141414"/>
<circle cx="341.00" cy="236.70" r="3.55" fill="#141414"/>
<circle cx="345.50" cy="289.50" r="3.55" fill="#141414"/>
<circle cx="350.20" cy="283.50" r="3.55" fill="#141414"/>
<circle cx="358.50" cy="253.50" r="3.55" fill="#141414"/>
<circle cx="367.20" cy="240.00" r="3.55" fill="#141414"/>
<circle cx="384.30" cy="219.80" r="3.55" fill="#141414"/>
<circle cx="419.60" cy="204.40" r="3.55" fill="#141414"/>
<circle cx="508.60" cy="229.10" r="3.55" fill="#141414"/>
<circle cx="291.30" cy="404.50" r="2.9" fill="#fff" stroke="#141414" stroke-width="1.1"/>
<circle cx="331.10" cy="408.00" r="2.9" fill="#fff" stroke="#141414" stroke-width="1.1"/>
<circle cx="335.50" cy="419.50" r="2.9" fill="#fff" stroke="#141414" stroke-width="1.1"/>
<circle cx="339.90" cy="448.30" r="2.9" fill="#fff" stroke="#141414" stroke-width="1.1"/>
<circle cx="344.30" cy="452.00" r="2.9" fill="#fff" stroke="#141414" stroke-width="1.1"/>
<circle cx="349.40" cy="452.00" r="2.9" fill="#fff" stroke="#141414" stroke-width="1.1"/>
<circle cx="358.00" cy="452.00" r="2.9" fill="#fff" stroke="#141414" stroke-width="1.1"/>
<circle cx="366.90" cy="445.30" r="2.9" fill="#fff" stroke="#141414" stroke-width="1.1"/>
<circle cx="384.30" cy="420.90" r="2.9" fill="#fff" stroke="#141414" stroke-width="1.1"/>
<circle cx="419.80" cy="383.10" r="2.9" fill="#fff" stroke="#141414" stroke-width="1.1"/>
<circle cx="508.60" cy="378.10" r="2.9" fill="#fff" stroke="#141414" stroke-width="1.1"/>
<circle cx="291.30" cy="404.30" r="3.55" fill="#141414"/>
<circle cx="331.30" cy="350.70" r="3.55" fill="#141414"/>
<circle cx="335.40" cy="368.00" r="3.55" fill="#141414"/>
<circle cx="339.90" cy="429.80" r="3.55" fill="#141414"/>
<circle cx="344.30" cy="458.00" r="3.55" fill="#141414"/>
<circle cx="349.40" cy="450.80" r="3.55" fill="#141414"/>
<circle cx="358.00" cy="446.00" r="3.55" fill="#141414"/>
<circle cx="366.90" cy="430.80" r="3.55" fill="#141414"/>
<circle cx="384.30" cy="381.20" r="3.55" fill="#141414"/>
<circle cx="419.80" cy="363.90" r="3.55" fill="#141414"/>
<circle cx="508.60" cy="351.30" r="3.55" fill="#141414"/>
<line x1="308.40" y1="75.68" x2="314.00" y2="73.52" stroke="#fff" stroke-width="1.40"/><line x1="304.70" y1="75.81" x2="316.84" y2="71.15" stroke="#141414" stroke-width="1.1"/><line x1="305.56" y1="78.05" x2="317.70" y2="73.39" stroke="#141414" stroke-width="1.1"/>
<line x1="304.46" y1="130.44" x2="310.54" y2="120.32" stroke="#141414" stroke-width="1.1"/><line x1="306.86" y1="131.88" x2="312.94" y2="121.76" stroke="#141414" stroke-width="1.1"/>
<line x1="308.71" y1="154.74" x2="311.29" y2="150.46" stroke="#fff" stroke-width="1.90"/><line x1="305.67" y1="157.00" x2="311.85" y2="146.71" stroke="#141414" stroke-width="1.1"/><line x1="308.15" y1="158.49" x2="314.33" y2="148.20" stroke="#141414" stroke-width="1.1"/>
<line x1="307.60" y1="239.58" x2="313.20" y2="237.42" stroke="#fff" stroke-width="1.50"/><line x1="304.12" y1="239.57" x2="315.79" y2="235.09" stroke="#141414" stroke-width="1.1"/><line x1="305.01" y1="241.91" x2="316.68" y2="237.43" stroke="#141414" stroke-width="1.1"/>
<line x1="304.61" y1="287.92" x2="310.79" y2="277.64" stroke="#141414" stroke-width="1.1"/><line x1="307.01" y1="289.36" x2="313.19" y2="279.08" stroke="#141414" stroke-width="1.1"/>
<line x1="308.71" y1="307.74" x2="311.29" y2="303.46" stroke="#fff" stroke-width="1.90"/><line x1="305.67" y1="310.00" x2="311.85" y2="299.71" stroke="#141414" stroke-width="1.1"/><line x1="308.15" y1="311.49" x2="314.33" y2="301.20" stroke="#141414" stroke-width="1.1"/>
<line x1="307.89" y1="380.53" x2="313.71" y2="379.07" stroke="#fff" stroke-width="1.40"/><line x1="304.20" y1="380.21" x2="316.82" y2="377.06" stroke="#141414" stroke-width="1.1"/><line x1="304.78" y1="382.54" x2="317.40" y2="379.39" stroke="#141414" stroke-width="1.1"/>
<line x1="304.77" y1="411.13" x2="310.86" y2="401.38" stroke="#141414" stroke-width="1.1"/><line x1="307.14" y1="412.62" x2="313.23" y2="402.87" stroke="#141414" stroke-width="1.1"/>
<line x1="308.71" y1="465.24" x2="311.29" y2="460.96" stroke="#fff" stroke-width="1.90"/><line x1="305.67" y1="467.50" x2="311.85" y2="457.21" stroke="#141414" stroke-width="1.1"/><line x1="308.15" y1="468.99" x2="314.33" y2="458.70" stroke="#141414" stroke-width="1.1"/>
<text x="48.5" y="33.3" class="grp">group 1</text>
<text x="365.8" y="33.7" class="grp">group 2</text>
<text x="49.0" y="75.0" class="pv">p &lt; 0.001</text>
<text x="51.2" y="190.0" class="pv">p &lt; 0.001</text>
<text x="51.2" y="339.0" class="pv">p &lt; 0.001</text>
<text x="456.8" y="34.7" class="pv">p &lt; 0.001</text>
<text x="456.8" y="189.5" class="pv">p &lt; 0.001</text>
<text x="456.8" y="338.5" class="pv">p &lt; 0.001</text>
<text x="152.6" y="125.2" class="pl">A</text>
<text x="153.1" y="276.6" class="pl">B</text>
<text x="152.6" y="434.4" class="pl">C</text>
<text transform="translate(10.3,65.20) rotate(-90)" text-anchor="middle" class="yt">leukocyte count (x 10<tspan dy="-3.3" font-size="6.6">9</tspan><tspan dy="3.3">/L)</tspan></text>
<text transform="translate(10.3,220.00) rotate(-90)" text-anchor="middle" class="yt">granulocyte count (x 10<tspan dy="-3.3" font-size="6.6">9</tspan><tspan dy="3.3">/L)</tspan></text>
<text transform="translate(10.3,383.55) rotate(-90)" text-anchor="middle" class="yt">monocyte count (x 10<tspan dy="-3.3" font-size="6.6">9</tspan><tspan dy="3.3">/L)</tspan></text>
<text x="176.7" y="504.7" class="xt">time (hours relative to endotoxin challenge)</text>
</svg>
</body></html>
